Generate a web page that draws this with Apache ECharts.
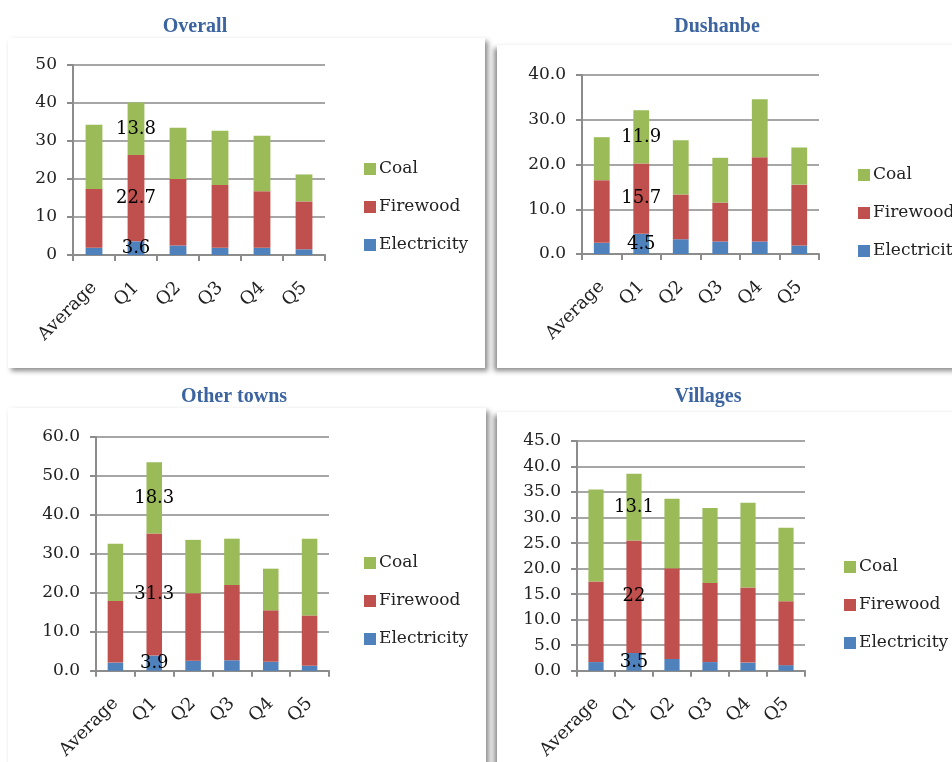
<!DOCTYPE html>
<html>
<head>
<meta charset="utf-8">
<script src="https://cdn.jsdelivr.net/npm/echarts@6/dist/echarts.min.js"></script>
<style>
  body { margin: 0; background: #fff; }
  .wrap { position: relative; width: 952px; height: 762px; overflow: hidden; }
  .box { position: absolute; background: #fff; }
  #chart { position: absolute; left: 0; top: 0; width: 952px; height: 762px; }
</style>
</head>
<body>
<div class="wrap">
  <div class="box" style="left:8px;top:38px;width:477px;height:330px;box-shadow:3px 3px 5px rgba(0,0,0,0.45);"></div>
  <div class="box" style="left:497px;top:45px;width:470px;height:323px;box-shadow:-3px 3px 5px rgba(0,0,0,0.45);"></div>
  <div class="box" style="left:8px;top:408px;width:478px;height:370px;box-shadow:3px 3px 5px rgba(0,0,0,0.45);"></div>
  <div class="box" style="left:497px;top:412px;width:470px;height:370px;box-shadow:-3px 3px 5px rgba(0,0,0,0.45);"></div>
  <div id="chart"></div>
</div>
<script>
const categories = ['Average', 'Q1', 'Q2', 'Q3', 'Q4', 'Q5'];
const titles = ['Overall', 'Dushanbe', 'Other towns', 'Villages'];

// electricity / firewood / coal per panel
const overallElectricity = [1.9, 3.6, 2.5, 1.9, 1.9, 1.5];
const overallFirewood = [15.5, 22.7, 17.5, 16.5, 14.9, 12.6];
const overallCoal = [16.9, 13.8, 13.5, 14.3, 14.6, 7.1];

const dushanbeElectricity = [2.5, 4.5, 3.3, 2.8, 2.8, 1.9];
const dushanbeFirewood = [14.0, 15.7, 10.0, 8.7, 18.8, 13.6];
const dushanbeCoal = [9.6, 11.9, 12.1, 10.0, 13.0, 8.3];

const townsElectricity = [2.1, 3.9, 2.6, 2.7, 2.3, 1.3];
const townsFirewood = [15.8, 31.3, 17.3, 19.3, 13.2, 12.9];
const townsCoal = [14.7, 18.3, 13.7, 11.9, 10.7, 19.7];

const villagesElectricity = [1.7, 3.5, 2.3, 1.7, 1.6, 1.1];
const villagesFirewood = [15.8, 22.0, 17.8, 15.5, 14.7, 12.5];
const villagesCoal = [18.0, 13.1, 13.6, 14.7, 16.6, 14.4];

const yMax = [50, 40, 60, 45];
const yStep = [10, 10, 10, 5];
const labelledIndex = 1; // only Q1 carries data labels

const panelData = [
  [overallElectricity, overallFirewood, overallCoal],
  [dushanbeElectricity, dushanbeFirewood, dushanbeCoal],
  [townsElectricity, townsFirewood, townsCoal],
  [villagesElectricity, villagesFirewood, villagesCoal]
];

const fontFamily = '"DejaVu Serif", "Liberation Serif", serif';
const colors = { Electricity: '#4F81BD', Firewood: '#C0504D', Coal: '#9BBB59' };

const layout = [
  { grid: { left: 73, top: 65, width: 252, height: 190 }, title: [190, 12], legend: [359, 155] },
  { grid: { left: 582, top: 75, width: 237, height: 179 }, title: [712, 12], legend: [853, 161] },
  { grid: { left: 96, top: 437, width: 233, height: 238 }, title: [229, 382], legend: [359, 549] },
  { grid: { left: 577, top: 441, width: 228, height: 230 }, title: [703, 382], legend: [839, 553] }
];

const chart = echarts.init(document.getElementById('chart'), null, { renderer: 'canvas' });

const option = {
  animation: false,
  title: [],
  legend: [],
  grid: [],
  xAxis: [],
  yAxis: [],
  series: []
};

layout.forEach((p, i) => {
  option.title.push({
    text: titles[i],
    left: p.title[0],
    top: p.title[1],
    textAlign: 'center',
    textStyle: { fontFamily: '"Liberation Serif", serif', fontWeight: 'bold', fontSize: 20, color: '#3B64A0' }
  });
  option.legend.push({
    orient: 'vertical',
    left: p.legend[0],
    top: p.legend[1],
    data: ['Coal', 'Firewood', 'Electricity'],
    icon: 'rect',
    itemWidth: 12,
    itemHeight: 12,
    itemGap: 20,
    textStyle: { fontFamily: fontFamily, fontSize: 17, color: '#222', lineHeight: 18, padding: [0, 0, 0, -2] }
  });
  option.grid.push(Object.assign({ containLabel: false }, p.grid));
  option.xAxis.push({
    type: 'category',
    gridIndex: i,
    data: categories,
    axisLine: { lineStyle: { color: '#8C8C8C', width: 2 } },
    axisTick: { show: true, length: 6, lineStyle: { color: '#8C8C8C', width: 2 } },
    axisLabel: { rotate: 45, margin: 30, fontFamily: fontFamily, fontSize: 18, color: '#222' }
  });
  option.yAxis.push({
    type: 'value',
    gridIndex: i,
    min: 0,
    max: yMax[i],
    interval: yStep[i],
    axisLine: { show: true, lineStyle: { color: '#8C8C8C', width: 2 } },
    axisTick: { show: true, length: 6, lineStyle: { color: '#8C8C8C', width: 2 } },
    splitLine: { lineStyle: { color: '#A6A6A6', width: 2 } },
    axisLabel: {
      margin: 16,
      fontFamily: fontFamily,
      fontSize: 17,
      color: '#222',
      formatter: v => (i === 0 ? String(v) : v.toFixed(1))
    }
  });
  ['Electricity', 'Firewood', 'Coal'].forEach((name, k) => {
    option.series.push({
      name: name,
      type: 'bar',
      xAxisIndex: i,
      yAxisIndex: i,
      stack: 'panel' + i,
      barWidth: '40%',
      itemStyle: { color: colors[name] },
      label: {
        show: false,
        position: 'inside',
        fontFamily: fontFamily,
        fontSize: 18,
        color: '#000'
      },
      data: panelData[i][k].map((v, j) => j === labelledIndex ? { value: v, label: { show: true } } : v)
    });
  });
});

chart.setOption(option);
</script>
</body>
</html>
